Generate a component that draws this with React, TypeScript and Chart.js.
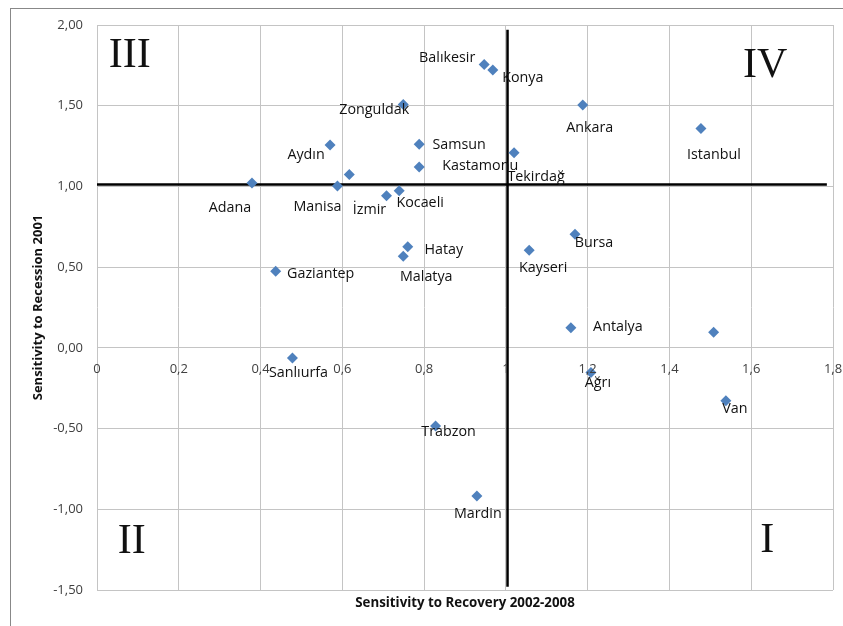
import React, { useEffect, useRef } from "react";
import { Chart, registerables } from "chart.js";

Chart.register(...registerables);

// ---- data ----
const provinces = [
  "Adana", "Aydın", "Manisa", "", "İzmir", "Kocaeli", "Zonguldak", "Samsun", "Kastamonu",
  "Balıkesir", "Konya", "Tekirdağ", "Ankara", "Istanbul", "Gaziantep", "Sanlıurfa", "Hatay",
  "Malatya", "Kayseri", "Bursa", "Antalya", "", "Ağrı", "Van", "Trabzon", "Mardin",
];
const recovery = [
  0.379, 0.570, 0.588, 0.617, 0.708, 0.739, 0.749, 0.788, 0.788,
  0.947, 0.968, 1.020, 1.188, 1.477, 0.437, 0.478, 0.760,
  0.749, 1.057, 1.169, 1.159, 1.508, 1.208, 1.538, 0.828, 0.929,
];
const recession = [
  1.022, 1.256, 1.002, 1.074, 0.942, 0.973, 1.508, 1.262, 1.121,
  1.756, 1.721, 1.208, 1.504, 1.359, 0.475, -0.063, 0.626,
  0.568, 0.605, 0.704, 0.124, 0.097, -0.153, -0.327, -0.484, -0.918,
];

const xMin = 0;
const xMax = 1.8;
const xStep = 0.2;
const yMin = -1.5;
const yMax = 2;
const yStep = 0.5;

const splitX = 1.004;
const splitY = 1.012;
const hLineXRange = [0, 1.785];
const vLineYRange = [1.97, -1.48];

const quadrantNames = ["III", "IV", "II", "I"];
const quadrantX = [0.08, 1.634, 0.085, 1.639];
const quadrantY = [1.808, 1.746, -1.205, -1.199];

const xTitle = "Sensitivity to Recovery 2002-2008";
const yTitle = "Sensitivity to Recession 2001";

// ---- styles (label offsets in px from marker centre) ----
const labelOffsets: Record<string, [number, number]> = {
  "Adana": [-22, 25],
  "Aydın": [-24, 10],
  "Manisa": [-20, 21],
  "İzmir": [-17, 14],
  "Kocaeli": [21, 12],
  "Zonguldak": [-29, 6],
  "Samsun": [40, 1],
  "Kastamonu": [61, -1],
  "Balıkesir": [-37, -6],
  "Konya": [30, 8],
  "Tekirdağ": [22, 24],
  "Ankara": [7, 23],
  "Istanbul": [13, 26],
  "Gaziantep": [45, 3],
  "Sanlıurfa": [6, 15],
  "Hatay": [36, 3],
  "Malatya": [23, 21],
  "Kayseri": [14, 18],
  "Bursa": [19, 9],
  "Antalya": [47, -1],
  "Ağrı": [7, 10],
  "Van": [9, 8],
  "Trabzon": [13, 6],
  "Mardin": [1, 18],
};

const FONT = "'Open Sans', 'DejaVu Sans', sans-serif";
const TICK_COLOR = "#404040";
const GRID_COLOR = "#c4c4c4";
const MARKER = "#4F81BD";

const fmtX = (v: number) => String(Math.round(v * 10) / 10).replace(".", ",");
const fmtY = (v: number) => v.toFixed(2).replace(".", ",");

const overlayPlugin = {
  id: "overlay",
  afterDatasetsDraw(chart: any) {
    const { ctx, scales } = chart;
    const xs = scales.x;
    const ys = scales.y;
    ctx.save();
    // x tick labels along y = 0
    ctx.font = `13px ${FONT}`;
    ctx.fillStyle = TICK_COLOR;
    ctx.textAlign = "center";
    ctx.textBaseline = "middle";
    const y0 = ys.getPixelForValue(0);
    xs.ticks.forEach((t: any) => {
      ctx.fillText(fmtX(t.value), xs.getPixelForValue(t.value), y0 + 21);
    });
    // point labels
    const meta = chart.getDatasetMeta(0);
    ctx.font = `14.3px ${FONT}`;
    ctx.fillStyle = "#111";
    meta.data.forEach((pt: any, i: number) => {
      const name = provinces[i];
      if (!name) return;
      const off = labelOffsets[name] || [0, 14];
      ctx.fillText(name, pt.x + off[0], pt.y + off[1]);
    });
    // quadrant numerals
    ctx.font = "42px 'Liberation Serif', 'DejaVu Serif', serif";
    ctx.fillStyle = "#111";
    quadrantNames.forEach((q, i) => {
      ctx.fillText(q, xs.getPixelForValue(quadrantX[i]), ys.getPixelForValue(quadrantY[i]));
    });
    ctx.restore();
  },
};

export default function App() {
  const ref = useRef<HTMLCanvasElement | null>(null);
  useEffect(() => {
    if (!ref.current) return;
    const chart = new Chart(ref.current, {
      type: "scatter",
      data: {
        datasets: [
          {
            label: "Provinces",
            data: recovery.map((x, i) => ({ x, y: recession[i] })),
            pointStyle: "rectRot",
            pointRadius: 5.5,
            pointHoverRadius: 5.5,
            backgroundColor: MARKER,
            borderColor: MARKER,
            borderWidth: 0,
            order: 1,
          },
          {
            label: "h",
            data: hLineXRange.map((x) => ({ x, y: splitY })),
            showLine: true,
            borderColor: "#000",
            borderWidth: 2.5,
            pointRadius: 0,
            order: 2,
          },
          {
            label: "v",
            data: vLineYRange.map((y) => ({ x: splitX, y })),
            showLine: true,
            borderColor: "#000",
            borderWidth: 2.5,
            pointRadius: 0,
            order: 2,
          },
        ],
      },
      options: {
        animation: false,
        responsive: true,
        maintainAspectRatio: false,
        layout: { padding: { top: 16, right: 10, left: 0, bottom: 0 } },
        plugins: { legend: { display: false }, tooltip: { enabled: false } },
        scales: {
          x: {
            type: "linear",
            min: xMin,
            max: xMax,
            ticks: { stepSize: xStep, display: false },
            grid: { color: GRID_COLOR, drawTicks: false, lineWidth: 1 },
            border: { display: false },
            title: {
              display: true,
              text: xTitle,
              font: { family: FONT, size: 13.3, weight: "bold" },
              color: "#111",
              padding: { top: 0, bottom: 15 },
            },
            afterFit: (s: any) => {
              s.height = 36;
            },
          },
          y: {
            type: "linear",
            min: yMin,
            max: yMax,
            ticks: {
              stepSize: yStep,
              color: TICK_COLOR,
              font: { family: FONT, size: 13 },
              padding: 14,
              callback: (v: any) => fmtY(Number(v)),
            },
            grid: { color: GRID_COLOR, drawTicks: false, lineWidth: 1 },
            border: { display: false },
            title: {
              display: true,
              text: yTitle,
              font: { family: FONT, size: 13, weight: "bold" },
              color: "#111",
              padding: { top: 19, bottom: 0 },
            },
            afterFit: (s: any) => {
              s.width = 86;
              s.paddingTop = 0;
              s.paddingBottom = 0;
            },
          },
        },
      },
      plugins: [overlayPlugin],
    });
    return () => chart.destroy();
  }, []);

  return (
    <div
      style={{
        position: "fixed",
        left: 10,
        top: 8,
        width: 833,
        height: 618,
        borderLeft: "1px solid #888",
        borderTop: "1px solid #888",
        boxSizing: "border-box",
        background: "#fff",
      }}
    >
      <div style={{ position: "relative", width: 832, height: 617 }}>
        <canvas ref={ref} />
      </div>
    </div>
  );
}
